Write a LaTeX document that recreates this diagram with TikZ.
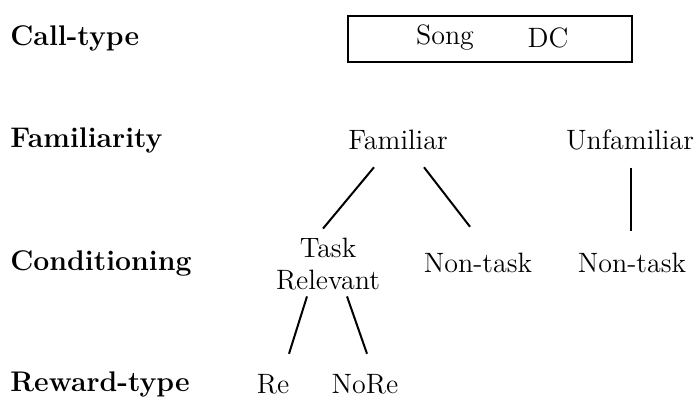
\documentclass[tikz,border=0pt]{standalone}
\usepackage{tikz}
\usetikzlibrary{positioning}

\begin{document}
\begin{tikzpicture}[x=0.5pt, y=-0.5pt,
    every node/.style={inner sep=0pt, font=\fontsize{14}{16}\selectfont},
    level/.style={anchor=west, font=\fontsize{14.2}{16}\selectfont\bfseries},
    link/.style={line width=1pt}]
    \useasboundingbox (0,0) rectangle (694,402);

    % Row labels
    \node[level] (calltype) at (10,38) {Call-type};
    \node[level] (familiarity) at (10,140) {Familiarity};
    \node[level] (conditioning) at (10,263) {Conditioning};
    \node[level] (rewardtype) at (10,384) {Reward-type};

    % Call-type box
    \node[draw, line width=1pt, minimum width=142pt, minimum height=23pt] (callbox) at (490,39) {};
    \node (song) at (445,38) {Song};
    \node (dc) at (548,38) {DC};

    % Familiarity
    \node (fam) at (398,140) {Familiar};
    \node (unfam) at (630,140) {Unfamiliar};

    % Conditioning
    \node[align=center] (task) at (328,264) {Task\\Relevant};
    \node (nontaskA) at (478,263) {Non-task};
    \node (nontaskB) at (632,263) {Non-task};

    % Reward-type
    \node (re) at (273,384) {Re};
    \node (nore) at (365,384) {NoRe};

    % Links
    \draw[link] ([xshift=-12pt,yshift=-8.5pt]fam.south) -- ([xshift=-2.5pt,yshift=4.5pt]task.north);
    \draw[link] ([xshift=13pt,yshift=-8.5pt]fam.south) -- ([xshift=-4pt,yshift=13pt]nontaskA.north);
    \draw[link] ([xshift=0.5pt,yshift=-8.5pt]unfam.south) -- ([xshift=-0.5pt,yshift=11pt]nontaskB.north);
    \draw[link] ([xshift=-10.5pt,yshift=-3pt]task.south) -- ([xshift=8pt,yshift=10pt]re.north);
    \draw[link] ([xshift=9.5pt,yshift=-3pt]task.south) -- ([xshift=1pt,yshift=10pt]nore.north);
\end{tikzpicture}
\end{document}
